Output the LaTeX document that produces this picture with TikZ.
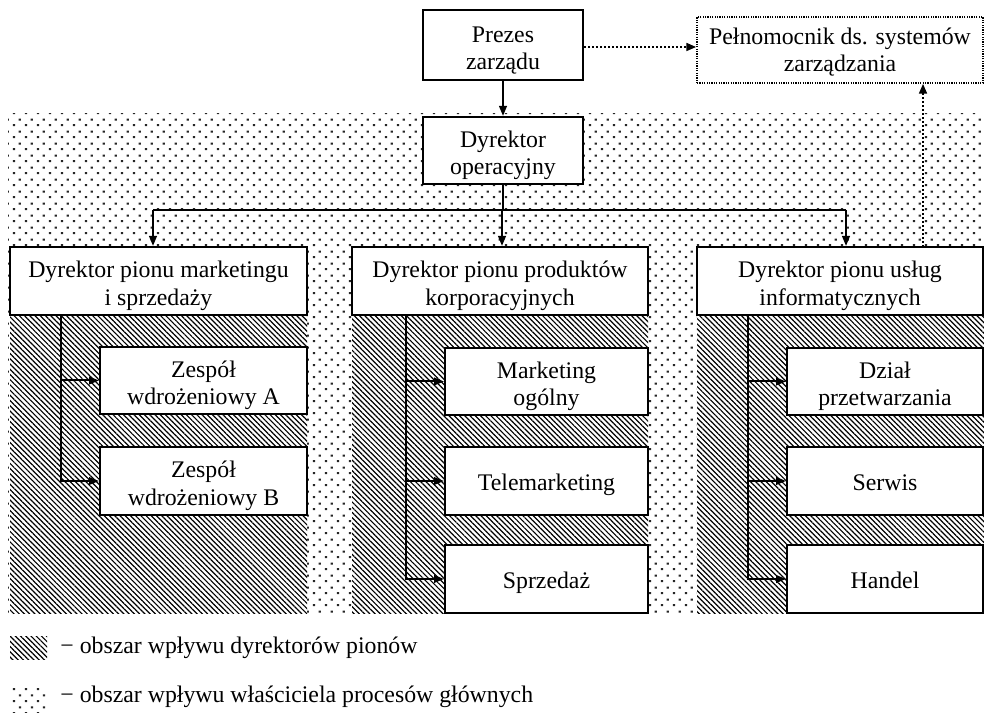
\documentclass[tikz,border=0pt]{standalone}
\usepackage{fontspec}
\setmainfont{Liberation Serif}
\usetikzlibrary{arrows.meta,patterns,patterns.meta}
\pgfdeclarepatternformonly{stagdots}{\pgfqpoint{0pt}{0pt}}{\pgfqpoint{5.9pt}{6pt}}{\pgfqpoint{5.9pt}{6pt}}{%
  \pgfpathrectangle{\pgfqpoint{0.45pt}{0.45pt}}{\pgfqpoint{1.1pt}{1.1pt}}%
  \pgfpathrectangle{\pgfqpoint{3.4pt}{3.45pt}}{\pgfqpoint{1.1pt}{1.1pt}}%
  \pgfusepath{fill}}
\newcommand{\orgbox}[7][]{\node[box,#1, minimum width={(#5-#3)*0.5pt}, minimum height={(#6-#4)*0.5pt}] (#2) at ({(#3+#5)/2},{(#4+#6)/2}) {#7};}
\newcommand{\tl}{\rule[-3pt]{0pt}{15.5pt}}
\newcommand{\tlm}{\rule{0pt}{13pt}}
\begin{document}
\begin{tikzpicture}[x=0.5pt,y=-0.5pt,
  every node/.style={font=\fontsize{11.9pt}{13.6pt}\selectfont},
  box/.style={draw, line width=1pt, fill=white, align=center, inner sep=0pt},
  dotbox/.style={line width=0.6pt, dash pattern=on 0.6pt off 0.6pt},
  line/.style={line width=1pt},
  arr/.style={line width=1pt, -{Triangle[length=5pt,width=3.8pt]}},
  darr/.style={line width=1.4pt, dash pattern=on 1pt off 1pt, -{Triangle[length=5pt,width=3.8pt]}},
  hatch/.style={pattern={Lines[angle=-45,distance=1.85pt,line width=0.6pt]}, pattern color=black},
  dots/.style={pattern=stagdots, pattern color=black!85},
  legtext/.style={anchor=west, inner sep=0pt}
]
\useasboundingbox (0,0) rectangle (984,715);
% regions
\fill[dots] (8,114) rectangle (984,613);
\foreach \a/\b in {10/307,352/648,697/984}{
  \fill[white] (\a,315) rectangle (\b,613);
  \fill[hatch] (\a,315) rectangle (\b,613);
}
% boxes
\orgbox{prezes}{423}{10}{583}{80}{\tlm Prezes\\zarządu}
\orgbox[dotbox]{pel}{697}{17}{983}{83}{\rule{0pt}{10pt}Pełnomocnik ds. systemów\\zarządzania}
\orgbox{dyrop}{423}{117}{583}{184}{\tlm Dyrektor\\operacyjny}
\orgbox{pionL}{10}{247}{307}{315}{\tlm Dyrektor pionu marketingu\\i sprzedaży}
\orgbox{pionM}{352}{247}{648}{315}{\tlm Dyrektor pionu produktów\\korporacyjnych}
\orgbox{pionR}{697}{247}{983}{315}{\tlm Dyrektor pionu usług\\informatycznych}
\orgbox{zA}{100}{347}{307}{414}{\tlm Zespół\\wdrożeniowy A}
\orgbox{zB}{100}{447}{307}{515}{\tlm Zespół\\wdrożeniowy B}
\orgbox{mo}{445}{348}{648}{415}{\tlm Marketing\\ogólny}
\orgbox{tm}{445}{447}{648}{515}{\tl Telemarketing}
\orgbox{sp}{445}{545}{648}{613}{\tl Sprzedaż}
\orgbox{dp}{787}{348}{983}{415}{\tlm Dział\\przetwarzania}
\orgbox{se}{787}{447}{983}{515}{\tl Serwis}
\orgbox{ha}{787}{545}{983}{613}{\tl Handel}
% top connectors
\draw[arr] (prezes) -- (dyrop);
\draw[darr] (prezes.east |- 0,47) coordinate (pe) -- (pel.west |- pe);
\coordinate (bus) at (503,210);
\coordinate (aL) at (153,210);
\coordinate (aM) at (502,210);
\coordinate (aR) at (846,210);
\draw[line] (dyrop) -- (bus);
\draw[line] (aL) -- (aR);
\draw[arr] (aL) -- (pionL.north -| aL);
\draw[arr] (aM) -- (pionM.north -| aM);
\draw[arr] (aR) -- (pionR.north -| aR);
\coordinate (uR) at (923,247);
\draw[darr] (uR) -- (pel.south -| uR);
% sub connectors
\coordinate (vL) at (61,315);
\coordinate (vM) at (406,315);
\coordinate (vR) at (748,315);
\draw[arr] (vL) |- (zB.west);
\draw[arr] (vL |- zA.west) -- (zA.west);
\draw[arr] (vM) |- (sp.west);
\draw[arr] (vM |- mo.west) -- (mo.west);
\draw[arr] (vM |- tm.west) -- (tm.west);
\draw[arr] (vR) |- (ha.west);
\draw[arr] (vR |- dp.west) -- (dp.west);
\draw[arr] (vR |- se.west) -- (se.west);
% legend
\fill[white] (10,636) rectangle (47,659);
\fill[hatch] (10,636) rectangle (47,659);
\fill[dots] (10,685) rectangle (47,712);
\node[legtext] (leg1) at (60,648) {− obszar wpływu dyrektorów pionów};
\node[legtext] (leg2) at (60,697) {− obszar wpływu właściciela procesów głównych};
\end{tikzpicture}
\end{document}
